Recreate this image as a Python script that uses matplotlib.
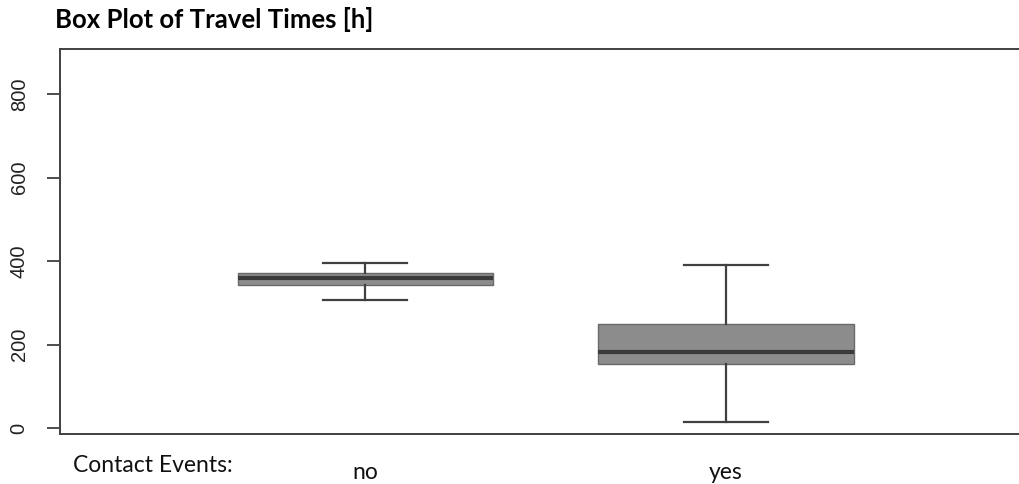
import matplotlib.pyplot as plt

# values (hours)
groups = ['no', 'yes']
whisker_low = [306, 16]
q1 = [343, 153]
medians = [359, 183]
q3 = [371, 250]
whisker_high = [395, 391]

yticks = [0, 200, 400, 600, 800]

stats = []
for i in range(len(groups)):
    stats.append({'label': groups[i], 'whislo': whisker_low[i], 'q1': q1[i],
                  'med': medians[i], 'q3': q3[i], 'whishi': whisker_high[i]})

fig = plt.figure(figsize=(10.2, 4.84), dpi=100)
ax = fig.add_axes([60/1020, 50/484, 960/1020, 385/484])

ax.bxp(stats, positions=[1, 2], widths=0.71, showfliers=False, patch_artist=True,
       boxprops=dict(facecolor='#8c8c8c', edgecolor='#6a6a6a', linewidth=1.0),
       medianprops=dict(color='#3a3a3a', linewidth=3.0, solid_capstyle='butt'),
       whiskerprops=dict(color='#404040', linewidth=1.6),
       capprops=dict(color='#404040', linewidth=1.6),
       capwidths=0.233)

ax.set_xlim(0.1526, 2.8155)
ax.set_ylim(-13.6, 908)

ax.set_yticks(yticks)
ax.set_yticklabels([str(v) for v in yticks], rotation=90, va='center',
                   family='Liberation Sans', fontsize=14.5, color='#222222')
ax.tick_params(axis='y', length=9.5, width=1.3, color='#404040', pad=13)

ax.set_xticks([1, 2])
ax.set_xticklabels(groups, family='Lato', fontsize=16.5, color='#111111')
ax.tick_params(axis='x', length=0, pad=20)

for side in ['left', 'bottom', 'top']:
    ax.spines[side].set_color('#404040')
    ax.spines[side].set_linewidth(1.4)
ax.spines['right'].set_visible(False)

fig.text(73/1020, 1 - 466/484, 'Contact Events:', family='Lato', fontsize=16.5,
         va='center', ha='left', color='#111111')
fig.text(55/1020, 1 - 20/484, 'Box Plot of Travel Times [h]', family='Lato',
         fontweight='bold', fontsize=18.5, va='center', ha='left', color='#000000')

fig.savefig('out.png', dpi=100)
